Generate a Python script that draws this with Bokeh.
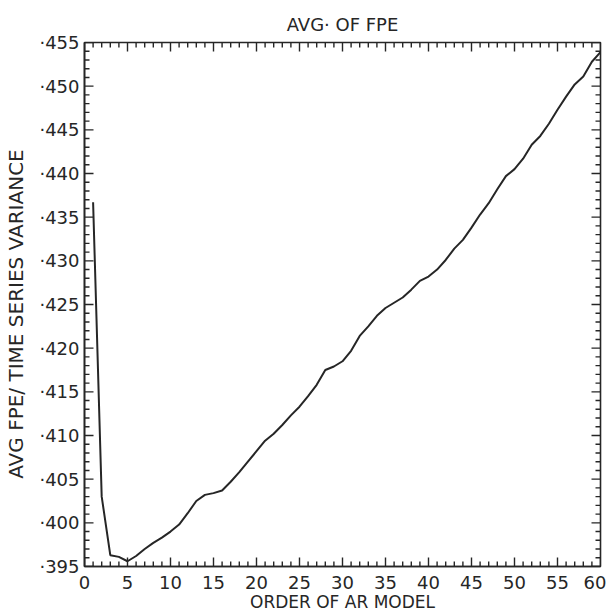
from bokeh.plotting import figure
from bokeh.models import Range1d, FixedTicker, CustomJSTickFormatter
from bokeh.embed import file_html
from bokeh.resources import INLINE

# Data
order = list(range(1, 61))
avg_fpe = [
    0.4367, 0.4030, 0.3963, 0.3961, 0.3956, 0.3962, 0.3970, 0.3977, 0.3983, 0.3990,
    0.3998, 0.4011, 0.4025, 0.4032, 0.4034, 0.4037, 0.4047, 0.4058, 0.4070, 0.4082,
    0.4094, 0.4102, 0.4112, 0.4123, 0.4133, 0.4145, 0.4158, 0.4175, 0.4179, 0.4185,
    0.4197, 0.4214, 0.4225, 0.4237, 0.4246, 0.4252, 0.4258, 0.4267, 0.4277, 0.4282,
    0.4290, 0.4301, 0.4314, 0.4324, 0.4338, 0.4353, 0.4366, 0.4382, 0.4397, 0.4405,
    0.4417, 0.4433, 0.4443, 0.4457, 0.4473, 0.4488, 0.4502, 0.4511, 0.4528, 0.4539,
]
x_ticks = list(range(0, 61, 5))
x_minor = list(range(0, 61))
y_ticks = [round(0.395 + 0.005 * i, 3) for i in range(13)]
y_minor = [round(0.395 + 0.001 * i, 3) for i in range(61)]

X0, X1 = 0, 60
Y0, Y1 = 0.395, 0.455

FONT = "DejaVu Sans"
INK = "#262626"

W, H = 606, 614
BL, BR, BT = 84, 6, 42
FRAME_W, FRAME_H = 516, 522          # approximate frame size in px
PX_X = (X1 - X0) / FRAME_W            # data units per px
PX_Y = (Y1 - Y0) / FRAME_H
MAJ, MIN = 9, 5                       # tick lengths in px

p = figure(width=W, height=H, output_backend="svg", toolbar_location=None,
           x_range=Range1d(X0, X1), y_range=Range1d(Y0, Y1),
           x_axis_label="ORDER OF AR MODEL",
           y_axis_label="AVG  FPE/ TIME  SERIES  VARIANCE",
           min_border_left=BL, min_border_right=BR, min_border_top=BT, min_border_bottom=10)

p.title.text = "AVG· OF FPE"
p.title.align = "center"
p.title.text_font = FONT
p.title.text_font_size = "18px"
p.title.text_font_style = "normal"
p.title.text_color = INK
p.title.offset = 0
p.title.standoff = 16

p.xgrid.visible = False
p.ygrid.visible = False
p.outline_line_color = INK
p.outline_line_width = 1.6
p.background_fill_color = "white"
p.border_fill_color = "white"


def style_axis(ax, ticks, minor):
    ax.ticker = FixedTicker(ticks=ticks, minor_ticks=minor)
    ax.axis_line_color = INK
    ax.axis_line_width = 1.6
    ax.major_tick_line_color = None
    ax.minor_tick_line_color = None
    ax.major_tick_in = 0
    ax.major_tick_out = 0
    ax.minor_tick_in = 0
    ax.minor_tick_out = 0
    ax.major_label_text_font = FONT
    ax.major_label_text_color = INK
    ax.axis_label_text_font = FONT
    ax.axis_label_text_font_style = "normal"
    ax.axis_label_text_color = INK


xa = p.xaxis[0]
style_axis(xa, x_ticks, x_minor)
xa.major_label_text_font_size = "18px"
xa.major_label_standoff = 9
xa.axis_label_text_font_size = "17px"
xa.axis_label_standoff = 0

ya = p.yaxis[0]
style_axis(ya, y_ticks, y_minor)
ya.formatter = CustomJSTickFormatter(code="return '\u00b7' + tick.toFixed(3).slice(2);")
ya.major_label_text_font_size = "18px"
ya.major_label_standoff = 5
ya.major_label_orientation = "horizontal"
ya.axis_label_text_font_size = "20px"
ya.axis_label_standoff = 8

# Inward ticks on all four sides of the frame, drawn from the tick lists
minor_x = [v for v in x_minor if v not in x_ticks]
minor_y = [v for v in y_minor if v not in y_ticks]
for xs, length in ((minor_x, MIN), (x_ticks, MAJ)):
    n = len(xs)
    p.segment(xs, [Y0] * n, xs, [Y0 + length * PX_Y] * n, line_color=INK, line_width=1.4)
    p.segment(xs, [Y1] * n, xs, [Y1 - length * PX_Y] * n, line_color=INK, line_width=1.4)
for ys, length in ((minor_y, MIN), (y_ticks, MAJ)):
    n = len(ys)
    p.segment([X0] * n, ys, [X0 + length * PX_X] * n, ys, line_color=INK, line_width=1.4)
    p.segment([X1] * n, ys, [X1 - length * PX_X] * n, ys, line_color=INK, line_width=1.4)

p.line(order, avg_fpe, line_color=INK, line_width=2)

open("out.html", "w").write(file_html(p, INLINE))
